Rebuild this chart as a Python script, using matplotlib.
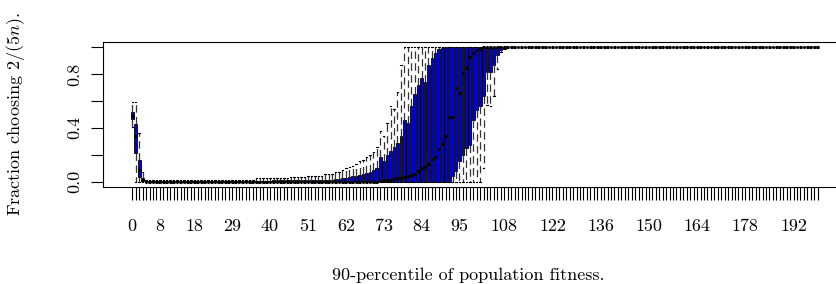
import numpy as np
import matplotlib
matplotlib.use('Agg')
import matplotlib.pyplot as plt

plt.rcParams['font.family'] = 'cmr10'
plt.rcParams['mathtext.fontset'] = 'cm'
plt.rcParams['axes.formatter.use_mathtext'] = True

# categories: 90-percentile of population fitness
fitness = list(range(200))
shown = [0, 8, 18, 29, 40, 51, 62, 73, 84, 95, 108, 122, 136, 150, 164, 178, 192]

# box statistics per category
med = ([0.49, 0.34, 0.09, 0.01] + [0.0] * 68
       + [0.005, 0.01, 0.01, 0.015, 0.02, 0.025, 0.03, 0.035, 0.04, 0.05,
          0.06, 0.08, 0.10, 0.11, 0.13, 0.17, 0.18, 0.24, 0.28, 0.34,
          0.48, 0.48, 0.70, 0.66, 0.81, 0.85, 0.93, 0.96, 0.98, 0.99]
       + [1.0] * 98)
q1 = ([0.47, 0.215, 0.037, 0.003] + [0.0] * 89
      + [0.04, 0.08, 0.15, 0.20, 0.25, 0.27, 0.46, 0.53, 0.56, 0.64,
         0.82, 0.82, 0.87, 0.94, 0.98, 0.99]
      + [1.0] * 91)
q3 = ([0.515, 0.43, 0.164, 0.03] + [0.003] * 17 + [0.005] * 20 + [0.01] * 10
      + [0.012] * 5 + [0.015] * 3 + [0.02] * 2
      + [0.025, 0.03, 0.035, 0.04, 0.045, 0.05, 0.06, 0.065, 0.075, 0.09,
         0.10, 0.18, 0.15, 0.20, 0.23, 0.26, 0.29, 0.34, 0.46, 0.44,
         0.56, 0.65, 0.72, 0.77, 0.74, 0.87, 0.92, 0.96, 0.985, 0.995]
      + [1.0] * 109)
whishi = ([0.59, 0.59, 0.365, 0.07] + [0.01] * 17 + [0.015] * 15 + [0.025] * 10
          + [0.035] * 5 + [0.045] * 5 + [0.06] * 3 + [0.075] * 2
          + [0.085, 0.10, 0.11, 0.12, 0.13, 0.15, 0.16, 0.18, 0.20, 0.22,
             0.26, 0.375, 0.34, 0.44, 0.56, 0.54, 0.67, 0.87]
          + [1.0] * 121)
whislo = ([0.41] + [0.0] * 101
          + [0.10, 0.57, 0.56, 0.64, 0.84, 0.965, 0.985, 0.995]
          + [1.0] * 90)

stats = []
for i in range(len(fitness)):
    stats.append(dict(med=med[i], q1=q1[i], q3=q3[i],
                      whislo=whislo[i], whishi=whishi[i], fliers=[]))

fig = plt.figure(figsize=(8.36, 2.84), dpi=100)
ax = fig.add_axes([103 / 836, 97 / 284, 744 / 836, 145 / 284])

pos = np.arange(len(fitness))
ax.bxp(stats, positions=pos, widths=0.8, patch_artist=True,
       boxprops=dict(facecolor='#0000d8', edgecolor='black', linewidth=0.6),
       whiskerprops=dict(color='#333333', linewidth=0.9, linestyle=(0, (6, 3.5))),
       capprops=dict(color='black', linewidth=0.8),
       capwidths=0.4,
       medianprops=dict(color='black', linewidth=2.2, solid_capstyle='butt'))

n = len(fitness)
ax.set_xlim(-0.5 - 0.04 * n, n - 0.5 + 0.04 * n)
ax.set_ylim(-0.04, 1.04)

ax.set_xticks(pos)
ax.set_xticklabels([str(f) if f in shown else '' for f in fitness], fontsize=13)
ax.set_yticks([0.0, 0.2, 0.4, 0.6, 0.8, 1.0])
ax.set_yticklabels(['0.0', '', '0.4', '', '0.8', ''], fontsize=13,
                   rotation=90, va='center')
ax.tick_params(axis='x', length=9, width=0.8, pad=14)
ax.tick_params(axis='y', length=9, width=0.8, pad=6)
for s in ax.spines.values():
    s.set_linewidth(0.8)

fig.text(468 / 836, 1 - 275 / 284, '90-percentile of population fitness.',
         ha='center', va='center', fontsize=13)
fig.text(16 / 836, 1 - 114 / 284, 'Fraction choosing $2/(5n)$.', rotation=90,
         ha='center', va='center', fontsize=13)

plt.savefig('out.png', dpi=100)
plt.close()
